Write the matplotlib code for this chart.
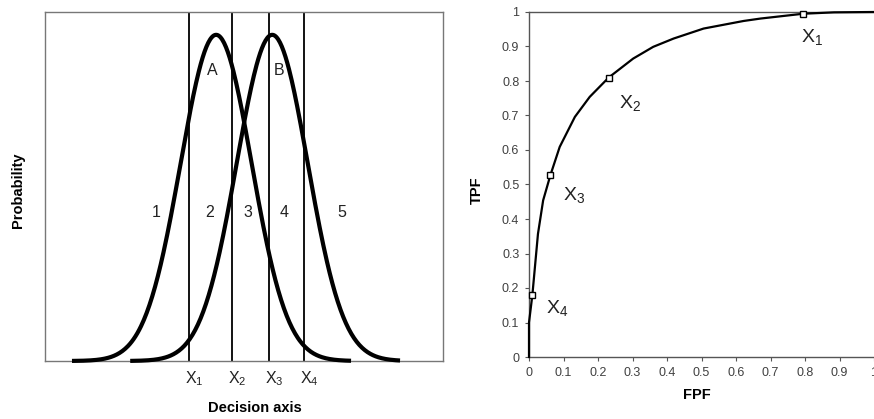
import numpy as np
import matplotlib

matplotlib.use("Agg")
import matplotlib.pyplot as plt  # noqa: E402

plt.rcParams["font.family"] = ["Liberation Sans", "DejaVu Sans"]
plt.rcParams["mathtext.fontset"] = "custom"
plt.rcParams["mathtext.rm"] = "Liberation Sans"
plt.rcParams["mathtext.it"] = "Liberation Sans:italic"

# left panel: two normal distributions on the decision axis (sigma units)
dist_names = ["A", "B"]
dist_means = [0.0, 1.58]
dist_sds = [1.0, 1.0]
dist_ranges = [(-4.06, 3.8), (-4.0, 3.6)]
thresholds = [-0.76, 0.45, 1.49, 2.48]
threshold_labels = [r"X$_1$", r"X$_2$", r"X$_3$", r"X$_4$"]
region_labels = ["1", "2", "3", "4", "5"]
region_x = [-1.69, -0.17, 0.90, 1.92, 3.55]
dist_label_x = [-0.11, 1.77]

# right panel: ROC curve
roc_fpf = [0.0, 0.0, 0.0097, 0.026, 0.041, 0.062, 0.089, 0.133, 0.176, 0.231,
           0.302, 0.360, 0.419, 0.506, 0.622, 0.671, 0.795, 0.884, 1.0]
roc_tpf = [0.0, 0.10, 0.179, 0.357, 0.454, 0.527, 0.609, 0.696, 0.754, 0.810,
           0.865, 0.899, 0.923, 0.952, 0.974, 0.981, 0.995, 0.999, 1.0]
op_fpf = [0.795, 0.231, 0.062, 0.0097]
op_tpf = [0.995, 0.810, 0.527, 0.179]
op_labels = [r"X$_1$", r"X$_2$", r"X$_3$", r"X$_4$"]
op_offsets = [(6, -16.5), (15, -18), (17, -14.5), (18, -9.5)]

fig = plt.figure(figsize=(8.74, 4.19), dpi=100)

# ---- left panel
ax = fig.add_axes([45 / 874, 58 / 419, 398 / 874, 349 / 419])
ax.set_xlim(-4.82, 6.39)
ax.set_ylim(0, 1.07)
for name, mu, sd, (lo, hi) in zip(dist_names, dist_means, dist_sds, dist_ranges):
    xs = np.linspace(mu + lo * sd, mu + hi * sd, 300)
    ax.plot(xs, np.exp(-0.5 * ((xs - mu) / sd) ** 2), color="black", lw=3.0,
            solid_capstyle="butt", clip_on=False, zorder=3)
for t in thresholds:
    ax.axvline(t, color="black", lw=1.3, zorder=2)
for lab, x in zip(region_labels, region_x):
    ax.text(x, 0.454, lab, ha="center", va="center", fontsize=11.5, color="#222222")
for lab, x in zip(dist_names, dist_label_x):
    ax.text(x, 0.892, lab, ha="center", va="center", fontsize=11.5, color="#222222")
for lab, t in zip(threshold_labels, thresholds):
    ax.annotate(lab, (t, 0), xytext=(3.6, -12.5), textcoords="offset points",
                ha="center", va="center", fontsize=11.5, color="#222222",
                annotation_clip=False)
ax.set_xticks([])
ax.set_yticks([])
for s in ax.spines.values():
    s.set_color("#777777")
    s.set_linewidth(1.0)
fig.text(255 / 874, 1 - 408 / 419, "Decision axis", ha="center", va="center",
         fontsize=10.5, fontweight="bold")
fig.text(18 / 874, 1 - 190 / 419, "Probability", ha="center", va="center",
         rotation=90, fontsize=10.5, fontweight="bold")

# ---- right panel
ax2 = fig.add_axes([529 / 874, 62 / 419, 345 / 874, 345 / 419])
ax2.plot(roc_fpf, roc_tpf, color="black", lw=1.6, clip_on=False, zorder=3)
ax2.plot(op_fpf, op_tpf, ls="none", marker="s", ms=5, mfc="white", mec="black",
         mew=1.0, clip_on=False, zorder=4)
for lab, x, y, off in zip(op_labels, op_fpf, op_tpf, op_offsets):
    ax2.annotate(lab, (x, y), xytext=off, textcoords="offset points",
                 ha="center", va="center", fontsize=14, color="#222222")
ax2.set_xlim(0, 1)
ax2.set_ylim(0, 1)
ticks = np.round(np.arange(0, 1.01, 0.1), 1)
ax2.set_xticks(ticks)
ax2.set_yticks(ticks)
ax2.set_xticklabels(["0"] + [f"{v:.1f}" for v in ticks[1:-1]] + ["1"])
ax2.set_yticklabels(["0"] + [f"{v:.1f}" for v in ticks[1:-1]] + ["1"])
ax2.tick_params(length=3, width=0.8, color="#555555", labelsize=9,
                labelcolor="#404040", pad=4)
ax2.spines["right"].set_visible(False)
for k in ["left", "bottom", "top"]:
    ax2.spines[k].set_color("#555555")
    ax2.spines[k].set_linewidth(1.0)
fig.text(477 / 874, 1 - 190 / 419, "TPF", ha="center", va="center",
         rotation=90, fontsize=10.5, fontweight="bold")
fig.text(697 / 874, 1 - 395 / 419, "FPF", ha="center", va="center",
         fontsize=10.5, fontweight="bold")

fig.savefig("out.png", dpi=100)
